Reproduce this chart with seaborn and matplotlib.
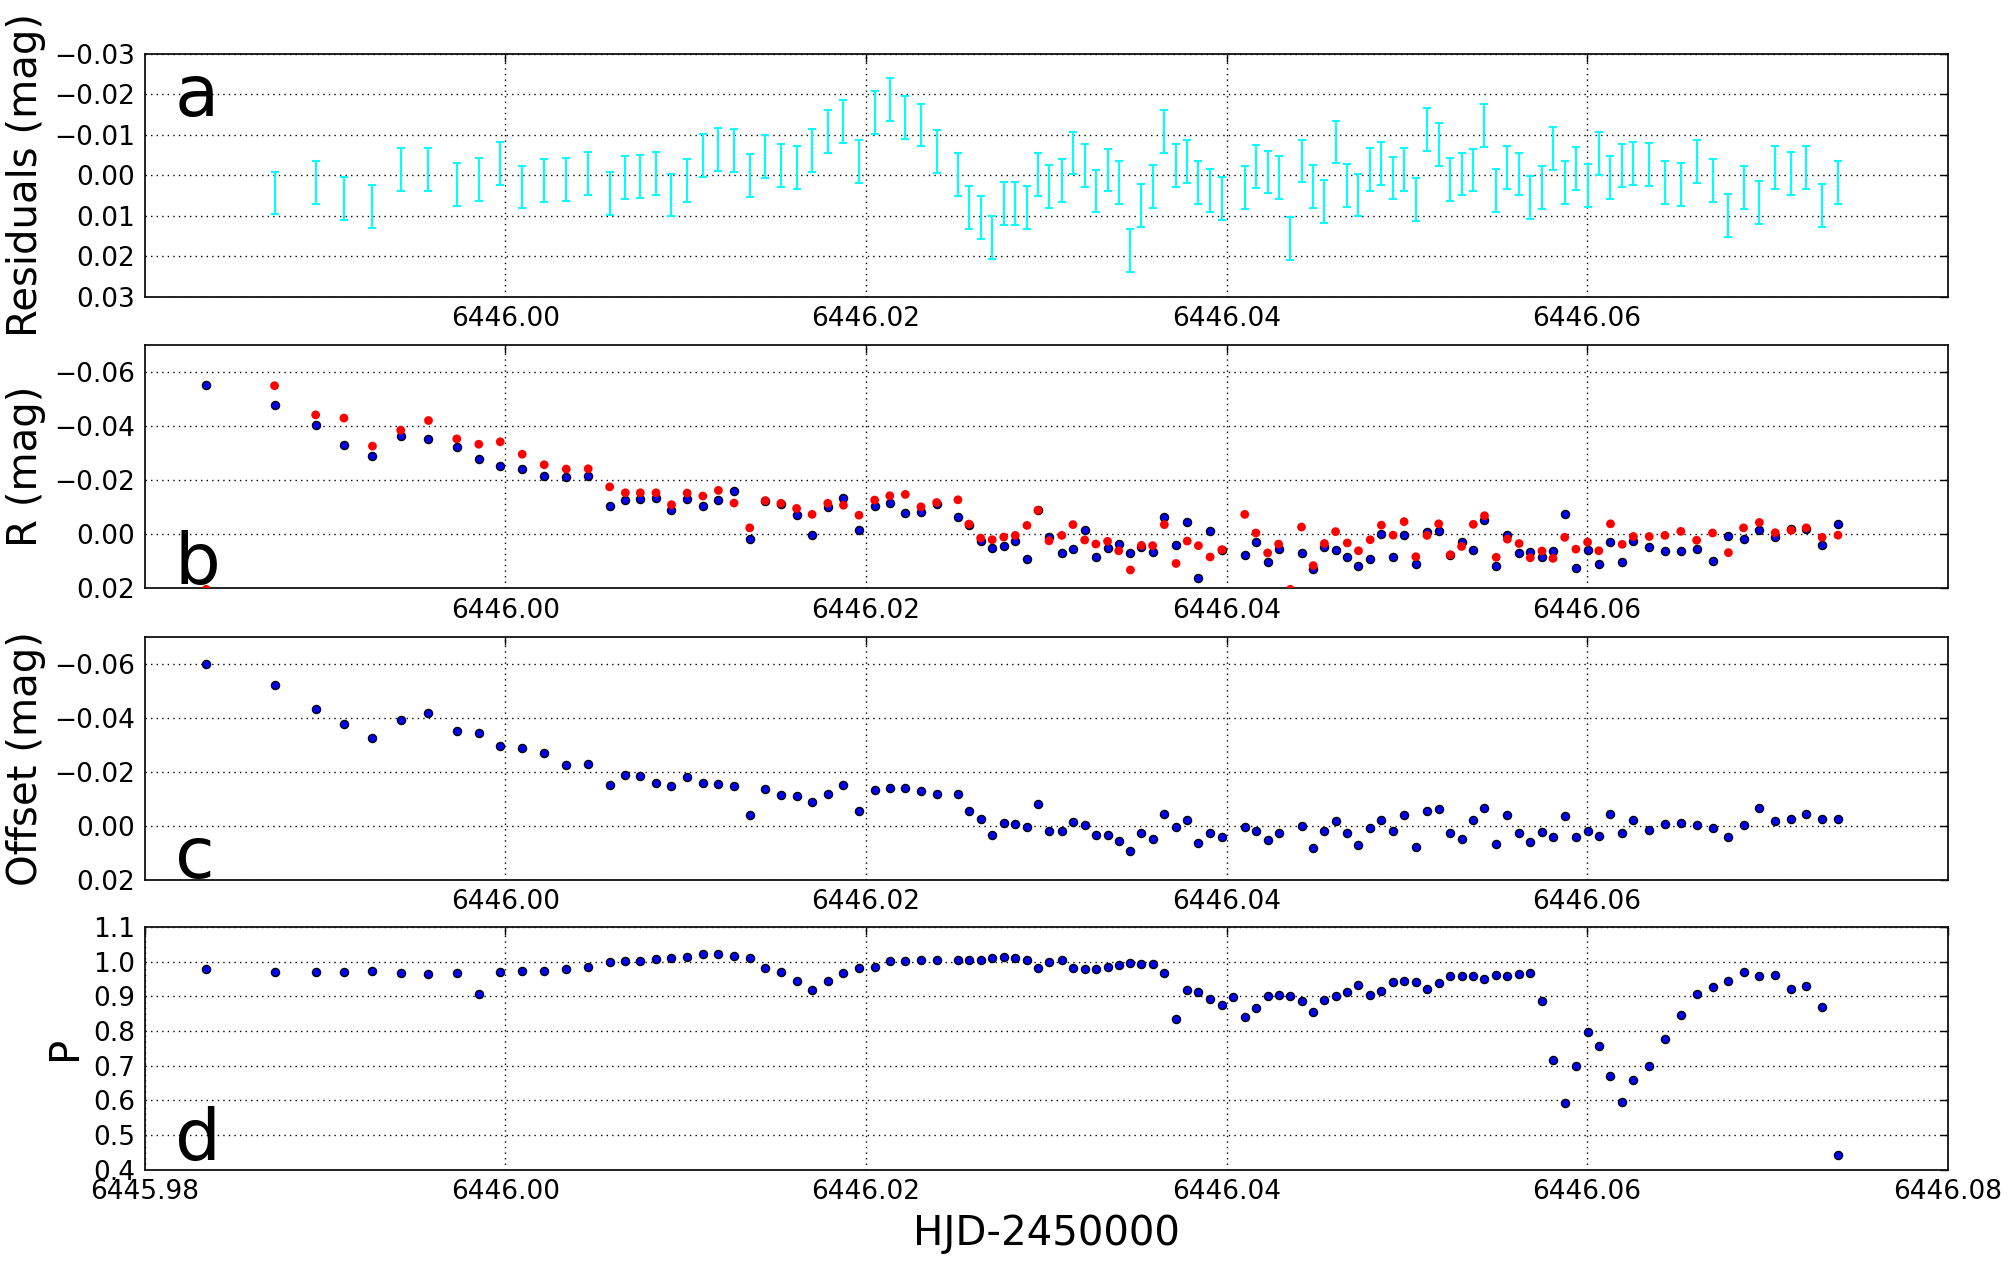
import numpy as np
import matplotlib
matplotlib.use("Agg")
import matplotlib.pyplot as plt
import seaborn as sns

nan = np.nan

# ---------------- data ----------------
hjd = [6445.98340, 6445.98719, 6445.98947, 6445.99104, 6445.99262, 6445.99419, 6445.99573,
       6445.99730, 6445.99852, 6445.99971, 6446.00093, 6446.00215, 6446.00337, 6446.00459,
       6446.00578, 6446.00665, 6446.00748, 6446.00835, 6446.00921, 6446.01008, 6446.01095,
       6446.01181, 6446.01268, 6446.01355, 6446.01441, 6446.01528, 6446.01615, 6446.01701,
       6446.01788, 6446.01875, 6446.01961, 6446.02048, 6446.02132, 6446.02218, 6446.02305,
       6446.02392, 6446.02510, 6446.02571, 6446.02636, 6446.02700, 6446.02764, 6446.02828,
       6446.02893, 6446.02954, 6446.03015, 6446.03086, 6446.03148, 6446.03213, 6446.03275,
       6446.03340, 6446.03402, 6446.03467, 6446.03528, 6446.03590, 6446.03655, 6446.03720,
       6446.03782, 6446.03844, 6446.03909, 6446.03974, 6446.04036, 6446.04101, 6446.04163,
       6446.04228, 6446.04289, 6446.04354, 6446.04416, 6446.04481, 6446.04543, 6446.04605,
       6446.04670, 6446.04732, 6446.04797, 6446.04859, 6446.04924, 6446.04985, 6446.05050,
       6446.05112, 6446.05177, 6446.05242, 6446.05304, 6446.05369, 6446.05431, 6446.05496,
       6446.05558, 6446.05623, 6446.05685, 6446.05750, 6446.05811, 6446.05876, 6446.05938,
       6446.06003, 6446.06065, 6446.06130, 6446.06195, 6446.06257, 6446.06345, 6446.06432,
       6446.06520, 6446.06608, 6446.06696, 6446.06784, 6446.06868, 6446.06956, 6446.07044,
       6446.07132, 6446.07216, 6446.07304, 6446.07392]

residuals = [nan, 0.0044, 0.0019, 0.0058, 0.0078, -0.0014, -0.0015, 0.0022, 0.0010, -0.0028,
             0.0029, 0.0013, 0.0011, -0.0005, 0.0045, 0.0005, 0.0003, -0.0005, 0.0049, 0.0012,
             -0.0049, -0.0064, -0.0061, -0.0000, -0.0047, -0.0023, -0.0020, -0.0062, -0.0107,
             -0.0132, -0.0033, -0.0156, -0.0187, -0.0143, -0.0124, -0.0059, -0.0002, 0.0080,
             0.0104, 0.0153, 0.0071, 0.0069, 0.0079, -0.0002, 0.0027, 0.0014, -0.0055, -0.0023,
             0.0039, -0.0013, 0.0019, 0.0185, 0.0074, 0.0027, -0.0109, -0.0023, -0.0033, 0.0017,
             0.0037, 0.0057, nan, 0.0031, -0.0021, -0.0008, 0.0005, 0.0157, -0.0035, 0.0028,
             0.0065, -0.0082, 0.0026, 0.0049, -0.0015, -0.0028, 0.0007, -0.0015, 0.0061,
             -0.0114, -0.0075, 0.0010, -0.0003, -0.0013, -0.0122, 0.0037, -0.0018, -0.0003,
             0.0054, 0.0031, -0.0066, 0.0017, -0.0017, 0.0026, -0.0054, 0.0005, -0.0023,
             -0.0029, -0.0026, 0.0017, 0.0022, -0.0034, 0.0013, 0.0099, 0.0031, 0.0068,
             -0.0018, -0.0005, -0.0018, 0.0075, 0.0017]
residual_err = 0.0053

r_red = [0.0205, -0.0550, -0.0442, -0.0430, -0.0326, -0.0385, -0.0421, -0.0353, -0.0333,
         -0.0342, -0.0296, -0.0257, -0.0241, -0.0242, -0.0175, -0.0153, -0.0153, -0.0153,
         -0.0109, -0.0152, -0.0141, -0.0162, -0.0115, -0.0023, -0.0124, -0.0114, -0.0095,
         -0.0073, -0.0114, -0.0107, -0.0070, -0.0126, -0.0142, -0.0147, -0.0101, -0.0117,
         -0.0127, -0.0037, 0.0015, 0.0021, 0.0011, 0.0005, -0.0032, -0.0088, 0.0025, 0.0005,
         -0.0035, 0.0022, 0.0037, 0.0027, 0.0062, 0.0133, 0.0042, 0.0043, -0.0035, 0.0109,
         0.0026, 0.0043, 0.0085, 0.0058, nan, -0.0073, -0.0004, 0.0070, 0.0037, 0.0205,
         -0.0026, 0.0117, 0.0035, -0.0009, 0.0033, 0.0062, 0.0021, -0.0033, 0.0004, -0.0046,
         0.0084, 0.0005, -0.0038, 0.0077, 0.0046, -0.0036, -0.0068, 0.0086, 0.0019, 0.0035,
         0.0088, 0.0063, 0.0090, 0.0012, 0.0056, 0.0030, 0.0062, -0.0038, 0.0038, 0.0009,
         0.0009, 0.0005, -0.0010, 0.0023, -0.0004, 0.0069, -0.0023, -0.0043, -0.0005,
         -0.0014, -0.0023, 0.0012, 0.0004]

r_blue = [-0.0553, -0.0480, -0.0405, -0.0329, -0.0290, -0.0364, -0.0352, -0.0324, -0.0279,
          -0.0254, -0.0240, -0.0216, -0.0211, -0.0215, -0.0105, -0.0128, -0.0131, -0.0135,
          -0.0091, -0.0130, -0.0105, -0.0128, -0.0158, 0.0017, -0.0124, -0.0112, -0.0072,
          0.0002, -0.0100, -0.0135, -0.0016, -0.0104, -0.0116, -0.0079, -0.0083, -0.0110,
          -0.0062, -0.0032, 0.0026, 0.0051, 0.0043, 0.0026, 0.0094, -0.0088, 0.0012, 0.0070,
          0.0054, -0.0016, 0.0085, 0.0052, 0.0037, 0.0069, 0.0047, 0.0065, -0.0064, 0.0042,
          -0.0046, 0.0163, -0.0010, 0.0058, nan, 0.0079, 0.0030, 0.0104, 0.0057, nan, 0.0069,
          0.0128, 0.0047, 0.0059, 0.0084, 0.0120, 0.0093, 0.0001, 0.0085, 0.0002, 0.0112,
          -0.0009, -0.0012, 0.0077, 0.0030, 0.0058, -0.0053, 0.0120, 0.0002, 0.0069, 0.0068,
          0.0086, 0.0062, -0.0075, 0.0124, 0.0059, 0.0110, 0.0028, 0.0103, 0.0026, 0.0047,
          0.0063, 0.0063, 0.0057, 0.0101, 0.0009, 0.0020, -0.0016, 0.0012, -0.0019, -0.0020,
          0.0042, -0.0037]

offset = [-0.0598, -0.0522, -0.0431, -0.0378, -0.0324, -0.0393, -0.0417, -0.0350, -0.0342,
          -0.0295, -0.0287, -0.0268, -0.0226, -0.0227, -0.0149, -0.0189, -0.0183, -0.0159,
          -0.0148, -0.0180, -0.0159, -0.0153, -0.0146, -0.0040, -0.0137, -0.0114, -0.0109,
          -0.0088, -0.0117, -0.0149, -0.0053, -0.0131, -0.0140, -0.0138, -0.0128, -0.0116,
          -0.0119, -0.0054, -0.0023, 0.0035, -0.0009, -0.0006, 0.0007, -0.0079, 0.0020,
          0.0020, -0.0015, -0.0004, 0.0035, 0.0033, 0.0058, 0.0095, 0.0027, 0.0051, -0.0044,
          0.0006, -0.0019, 0.0065, 0.0027, 0.0041, nan, 0.0007, 0.0019, 0.0052, 0.0028, nan,
          0.0000, 0.0082, 0.0020, -0.0017, 0.0028, 0.0072, 0.0009, -0.0021, 0.0020, -0.0041,
          0.0079, -0.0053, -0.0062, 0.0026, 0.0049, -0.0022, -0.0064, 0.0067, -0.0041,
          0.0026, 0.0061, 0.0022, 0.0044, -0.0037, 0.0041, 0.0021, 0.0040, -0.0042, 0.0026,
          -0.0022, 0.0016, -0.0005, -0.0010, -0.0002, 0.0010, 0.0044, -0.0004, -0.0067,
          -0.0016, -0.0025, -0.0042, -0.0023, -0.0025]

p_val = [0.978, 0.969, 0.970, 0.970, 0.973, 0.966, 0.963, 0.968, 0.907, 0.971, 0.973, 0.973,
         0.979, 0.985, 1.000, 1.001, 1.002, 1.006, 1.011, 1.013, 1.023, 1.023, 1.015, 1.009,
         0.981, 0.969, 0.945, 0.917, 0.944, 0.966, 0.982, 0.985, 1.001, 1.001, 1.005, 1.003,
         1.005, 1.005, 1.005, 1.011, 1.013, 1.011, 1.005, 0.980, 0.999, 1.003, 0.982, 0.977,
         0.978, 0.983, 0.989, 0.997, 0.993, 0.994, 0.968, 0.835, 0.917, 0.913, 0.893, 0.875,
         0.897, 0.841, 0.867, 0.901, 0.902, 0.901, 0.886, 0.854, 0.890, 0.901, 0.912, 0.933,
         0.904, 0.916, 0.942, 0.943, 0.940, 0.922, 0.939, 0.957, 0.957, 0.957, 0.949, 0.961,
         0.959, 0.964, 0.968, 0.887, 0.717, 0.592, 0.698, 0.796, 0.755, 0.669, 0.596, 0.659,
         0.698, 0.777, 0.846, 0.907, 0.926, 0.945, 0.971, 0.959, 0.962, 0.920, 0.930, 0.868,
         0.443]

xticks_top = [6446.00, 6446.02, 6446.04, 6446.06]
xticks_bottom = [6445.98, 6446.00, 6446.02, 6446.04, 6446.06, 6446.08]
yticks_a = [-0.03, -0.02, -0.01, 0.00, 0.01, 0.02, 0.03]
yticks_bc = [-0.06, -0.04, -0.02, 0.00, 0.02]
yticks_d = [0.4, 0.5, 0.6, 0.7, 0.8, 0.9, 1.0, 1.1]
panel_letters = ["a", "b", "c", "d"]
ylabels = ["Residuals (mag)", "R (mag)", "Offset (mag)", "P"]
xlabel = "HJD-2450000"

# ---------------- style ----------------
sns.set_style("white")
plt.rcParams["font.family"] = ["DejaVu Sans"]
plt.rcParams["axes.unicode_minus"] = True
plt.rcParams["text.color"] = "black"
plt.rcParams["axes.labelcolor"] = "black"
plt.rcParams["xtick.color"] = "black"
plt.rcParams["ytick.color"] = "black"

fig = plt.figure(figsize=(20.13, 12.61), dpi=100)
left, width = 0.072, 0.8955
bottoms = [0.7648, 0.5337, 0.3025, 0.0725]
height = 0.1925
axes = [fig.add_axes([left, b, width, height]) for b in bottoms]

TICK_FS = 19
LABEL_FS = 29
BLUE = "#0000FF"
RED = "#FF0000"


def fmt(v, nd):
    s = f"{v:.{nd}f}"
    return s.replace("-", "\u2212")


for i, ax in enumerate(axes):
    ax.set_xlim(6445.98, 6446.08)
    ax.grid(True, linestyle=(0, (1, 3)), color="k", linewidth=1.0)
    ax.tick_params(direction="in", top=True, right=True, length=6, width=1,
                   labelsize=TICK_FS, pad=7, colors="black", labelcolor="black")
    for s in ax.spines.values():
        s.set_linewidth(1.3)
        s.set_color("#111111")
    ax.set_facecolor("white")

# panel a: residuals with error bars
ax = axes[0]
t = np.array(hjd)
res = np.array(residuals)
m = ~np.isnan(res)
ax.errorbar(t[m], res[m], yerr=residual_err, fmt="none", ecolor="#00FFFF",
            elinewidth=1.5, capsize=3, capthick=1.5, zorder=3)
ax.set_ylim(0.03, -0.03)
ax.set_yticks(yticks_a)
ax.set_yticklabels([fmt(v, 2) for v in yticks_a])

# panel b: red and blue light curves
ax = axes[1]
sns.scatterplot(x=hjd, y=r_blue, ax=ax, color=BLUE, edgecolor="k", linewidth=1.0,
                s=34, zorder=3, legend=False)
sns.scatterplot(x=hjd, y=r_red, ax=ax, color=RED, edgecolor="none", linewidth=0,
                s=40, zorder=4, legend=False)
ax.set_ylim(0.02, -0.07)
ax.set_yticks(yticks_bc)
ax.set_yticklabels([fmt(v, 2) for v in yticks_bc])

# panel c: offset
ax = axes[2]
sns.scatterplot(x=hjd, y=offset, ax=ax, color=BLUE, edgecolor="k", linewidth=1.0,
                s=34, zorder=3, legend=False)
ax.set_ylim(0.02, -0.07)
ax.set_yticks(yticks_bc)
ax.set_yticklabels([fmt(v, 2) for v in yticks_bc])

# panel d: P
ax = axes[3]
sns.scatterplot(x=hjd, y=p_val, ax=ax, color=BLUE, edgecolor="k", linewidth=1.0,
                s=34, zorder=3, legend=False)
ax.set_ylim(0.4, 1.1)
ax.set_yticks(yticks_d)
ax.set_yticklabels([fmt(v, 1) for v in yticks_d])

for i, ax in enumerate(axes):
    ticks = xticks_bottom if i == 3 else xticks_top
    ax.set_xticks(ticks)
    ax.set_xticklabels([f"{v:.2f}" for v in ticks])
    ax.set_xlim(6445.98, 6446.08)
    ax.set_ylabel(ylabels[i], fontsize=LABEL_FS, labelpad=6, color="black")
    ax.set_xlabel("")

axes[3].set_xlabel(xlabel, fontsize=LABEL_FS, labelpad=6, color="black")

letter_y = [0.745, 0.015, 0.005, 0.04]
for ax, letter, ly in zip(axes, panel_letters, letter_y):
    ax.text(0.0165, ly, letter, transform=ax.transAxes, fontsize=52, color="black",
            ha="left", va="baseline", zorder=5)

fig.savefig("out.png", dpi=100, facecolor="white")
